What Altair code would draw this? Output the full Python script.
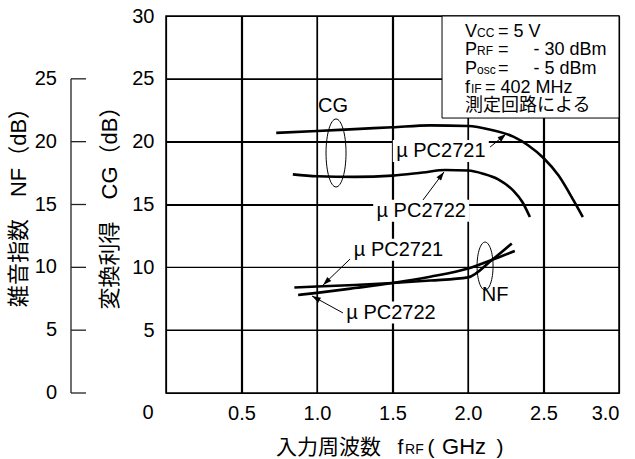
import math
import altair as alt
import pandas as pd

FONT = "'Liberation Sans', Arial, 'Noto Sans CJK JP', sans-serif"

# ---------------- data ----------------
# conversion gain CG (dB) vs input frequency fRF (GHz)
cg_2721_f = [0.73, 1.0, 1.25, 1.5, 1.75, 2.0, 2.15, 2.3, 2.4, 2.5, 2.6, 2.7, 2.76]
cg_2721_db = [20.7, 20.85, 21.0, 21.15, 21.3, 21.25, 20.95, 20.4, 19.7, 18.7, 17.3, 15.3, 14.0]
cg_2722_f = [0.84, 1.0, 1.25, 1.5, 1.7, 1.85, 2.0, 2.1, 2.2, 2.3, 2.36, 2.41]
cg_2722_db = [17.4, 17.25, 17.2, 17.3, 17.55, 17.75, 17.7, 17.45, 17.0, 16.1, 15.2, 14.0]
# noise figure NF (dB)
nf_2721_f = [0.85, 1.0, 1.25, 1.5, 1.75, 2.0, 2.16, 2.29]
nf_2721_db = [8.4, 8.47, 8.6, 8.75, 8.95, 9.2, 10.6, 11.9]
nf_2722_f = [0.875, 1.0, 1.25, 1.5, 1.75, 2.0, 2.16, 2.31]
nf_2722_db = [7.8, 7.97, 8.35, 8.75, 9.25, 9.9, 10.6, 11.3]

x_ticks = [0, 0.5, 1.0, 1.5, 2.0, 2.5, 3.0]
cg_ticks = [0, 5, 10, 15, 20, 25, 30]
nf_ticks = [0, 5, 10, 15, 20, 25]

# annotation texts and their places (in chart units)
part_names = ["µ PC2721", "µ PC2722", "µ PC2721", "µ PC2722"]
part_x = [1.82, 1.69, 1.54, 1.49]
part_y = [19.25, 14.5, 11.4, 6.4]
arrow_from_x = [2.146, 1.702, 1.219, 1.172]
arrow_from_y = [19.57, 15.36, 10.66, 6.37]
arrow_to_x = [2.252, 1.841, 1.04, 0.967]
arrow_to_y = [20.61, 17.59, 8.59, 7.72]

group_names = ["CG", "NF"]
group_x = [1.106, 2.18]
group_y = [22.84, 7.8]

NB = "\u00a0"
cond_text = ["V", "CC", "= 5 V",
             "P", "RF", "=" + NB * 5 + "- 30 dBm",
             "P", "osc", "=" + NB * 5 + "- 5 dBm",
             "f", "IF", "= 402 MHz",
             "測定回路による"]
cond_x = [1.980, 2.060, 2.199,
          1.980, 2.060, 2.199,
          1.980, 2.060, 2.199,
          1.980, 2.020, 2.113,
          1.980]
cond_y = [28.33] * 3 + [26.86] * 3 + [25.38] * 3 + [23.91] * 3 + [22.48]
cond_fs = [18, 12, 18, 18, 12, 18, 18, 12, 18, 18, 12, 18, 18]

xtitle_text = ["入力周波数", "f", "RF", "(", "GHz", ")"]
xtitle_x = [0.728, 1.533, 1.583, 1.732, 1.828, 2.189]
xtitle_fs = [21, 21, 14, 21, 22, 21]

# ---------------- scales and axes ----------------
W, H = 453, 377
XS = alt.Scale(domain=[0, 3], nice=False, zero=False)
YS = alt.Scale(domain=[0, 30], nice=False, zero=False)
PX_PER_X = W / 3.0
PX_PER_Y = H / 30.0
NF_AXIS_X = -95          # pixel offset of the second (NF) axis line from the plot's left edge
GRID_W = 1.2

X_AXIS = alt.Axis(values=x_ticks, labelExpr="datum.value == 0 ? '' : format(datum.value, '.1f')",
                  grid=True, gridColor="black", gridWidth=GRID_W, ticks=False, domain=False,
                  title=None, labelPadding=10, labelFontSize=20)
Y_AXIS = alt.Axis(values=cg_ticks, labelExpr="datum.value == 0 ? '' : datum.label",
                  orient="left", grid=True, gridColor="black", gridWidth=GRID_W, ticks=False,
                  domain=False, labelPadding=12, labelFontSize=20,
                  title="変換利得　CG（dB）", titleX=-57, titleY=186, titleAngle=270,
                  titleAlign="center", titleBaseline="middle", titleFontSize=22)


def X(f):
    return alt.X(f, type="quantitative", scale=XS, axis=X_AXIS)


def Y(f):
    return alt.Y(f, type="quantitative", scale=YS, axis=Y_AXIS)


# ---------------- tables ----------------
cg_df = pd.DataFrame({
    "f": cg_2721_f + cg_2722_f,
    "db": cg_2721_db + cg_2722_db,
    "series": ["µPC2721"] * len(cg_2721_f) + ["µPC2722"] * len(cg_2722_f),
})
nf_df = pd.DataFrame({
    "f": nf_2721_f + nf_2722_f,
    "db": nf_2721_db + nf_2722_db,
    "series": ["µPC2721 NF"] * len(nf_2721_f) + ["µPC2722 NF"] * len(nf_2722_f),
})

inner_x = [v for v in x_ticks if 0 < v < 3]
inner_y = [v for v in cg_ticks if 0 < v < 30]
vgrid_df = pd.DataFrame({"gx": inner_x, "ga": [0] * len(inner_x), "gb": [30] * len(inner_x)})
hgrid_df = pd.DataFrame({"gy": inner_y, "ga": [0] * len(inner_y), "gb": [3] * len(inner_y)})

nf_axis_line = pd.DataFrame({"ya": [min(nf_ticks)], "yb": [max(nf_ticks)]})
nf_tick_df = pd.DataFrame({"t": nf_ticks, "label": [str(v) for v in nf_ticks]})
nf_title_df = pd.DataFrame({"text": ["雑音指数　NF（dB）"]})

half_w = 48 / PX_PER_X
half_h = 11 / PX_PER_Y
parts_df = pd.DataFrame({"text": part_names, "x": part_x, "y": part_y})
parts_df["xa"] = parts_df["x"] - half_w
parts_df["xb"] = parts_df["x"] + half_w
parts_df["ya"] = parts_df["y"] - half_h
parts_df["yb"] = parts_df["y"] + half_h

ang = []
for a, b, c, d in zip(arrow_from_x, arrow_from_y, arrow_to_x, arrow_to_y):
    dx = (c - a) * PX_PER_X
    dys = -(d - b) * PX_PER_Y
    ang.append(math.degrees(math.atan2(dx, -dys)) % 360)
arrows_df = pd.DataFrame({"xa": arrow_from_x, "ya": arrow_from_y,
                          "xb": arrow_to_x, "yb": arrow_to_y, "ang": ang})

groups_df = pd.DataFrame({"text": group_names, "x": group_x, "y": group_y})
cond_df = pd.DataFrame({"text": cond_text, "x": cond_x, "y": cond_y, "fs": cond_fs})
box_df = pd.DataFrame({"xa": [1.828], "xb": [3.0], "ya": [21.88], "yb": [30.0]})
xtitle_df = pd.DataFrame({"text": xtitle_text, "x": xtitle_x,
                          "y": [-4.85] * len(xtitle_text), "fs": xtitle_fs})
origin_df = pd.DataFrame({"text": ["0"], "x": [-0.119], "y": [-2.03]})

ell_cg = pd.DataFrame({"x": [1.126], "y": [19.1]})
ell_nf = pd.DataFrame({"x": [2.113], "y": [10.1]})


def ellipse_path(rx, ry):
    r = rx / ry
    return f"M0,-1 A{r:.3f},1 0 1,1 0,1 A{r:.3f},1 0 1,1 0,-1 Z"


ARROW = "M0,0 L-0.33,1 L0.33,1 Z"

# ---------------- layers ----------------
vgrid = alt.Chart(vgrid_df).mark_rule(color="black", strokeWidth=GRID_W).encode(
    x=X("gx"), y=Y("ga"), y2="gb")
hgrid = alt.Chart(hgrid_df).mark_rule(color="black", strokeWidth=GRID_W).encode(
    x=X("ga"), x2="gb", y=Y("gy"))

cg_lines = alt.Chart(cg_df).mark_line(color="black", strokeWidth=2.6, interpolate="monotone").encode(
    x=X("f"), y=Y("db"), detail="series:N")
nf_lines = alt.Chart(nf_df).mark_line(color="black", strokeWidth=2.6, interpolate="monotone").encode(
    x=X("f"), y=Y("db"), detail="series:N")

# second (NF) axis, drawn from its tick values
nf_line = alt.Chart(nf_axis_line).mark_rule(color="#222", strokeWidth=1.3).encode(
    x=alt.value(NF_AXIS_X), y=Y("ya"), y2="yb")
nf_ticks_l = alt.Chart(nf_tick_df).mark_rule(color="#222", strokeWidth=1.3).encode(
    x=alt.value(NF_AXIS_X), x2=alt.value(NF_AXIS_X + 15), y=Y("t"))
nf_labels = alt.Chart(nf_tick_df).mark_text(align="right", baseline="middle", font=FONT,
                                            fontSize=20, color="black").encode(
    x=alt.value(NF_AXIS_X - 14), y=Y("t"), text="label:N")
nf_title = alt.Chart(nf_title_df).mark_text(angle=270, align="center", baseline="middle",
                                            font=FONT, fontSize=22, color="black").encode(
    x=alt.value(19 - 166), y=alt.value(186), text="text:N")

box = alt.Chart(box_df).mark_rect(fill="white", stroke="black", strokeWidth=1).encode(
    x=X("xa"), x2="xb", y=Y("ya"), y2="yb")

cond_text_layer = alt.Chart(cond_df).mark_text(align="left", baseline="alphabetic", font=FONT,
                                               color="black").encode(
    x=X("x"), y=Y("y"), text="text:N", size=alt.Size("fs:Q", scale=None))

part_boxes = alt.Chart(parts_df).mark_rect(fill="white", strokeWidth=0).encode(
    x=X("xa"), x2="xb", y=Y("ya"), y2="yb")
part_text = alt.Chart(parts_df).mark_text(align="center", baseline="middle", font=FONT,
                                          fontSize=20, color="black").encode(
    x=X("x"), y=Y("y"), text="text:N")

arrow_lines = alt.Chart(arrows_df).mark_rule(color="black", strokeWidth=1).encode(
    x=X("xa"), x2="xb", y=Y("ya"), y2="yb")
arrow_heads = alt.Chart(arrows_df).mark_point(shape=ARROW, filled=True, color="black",
                                              size=300, opacity=1).encode(
    x=X("xb"), y=Y("yb"), angle=alt.Angle("ang:Q", scale=None))

group_text = alt.Chart(groups_df).mark_text(align="center", baseline="middle", font=FONT,
                                            fontSize=20, color="black").encode(
    x=X("x"), y=Y("y"), text="text:N")

e_cg = alt.Chart(ell_cg).mark_point(shape=ellipse_path(10, 34), filled=False, stroke="black",
                                    strokeWidth=1, size=(2 * 34) ** 2, opacity=1).encode(
    x=X("x"), y=Y("y"))
e_nf = alt.Chart(ell_nf).mark_point(shape=ellipse_path(8, 24), filled=False, stroke="black",
                                    strokeWidth=1, size=(2 * 24) ** 2, opacity=1).encode(
    x=X("x"), y=Y("y"))

xtitle = alt.Chart(xtitle_df).mark_text(align="left", baseline="alphabetic", font=FONT,
                                        color="black").encode(
    x=X("x"), y=Y("y"), text="text:N", size=alt.Size("fs:Q", scale=None))
origin = alt.Chart(origin_df).mark_text(align="center", baseline="alphabetic", font=FONT,
                                        fontSize=20, color="black").encode(
    x=X("x"), y=Y("y"), text="text:N")

chart = alt.layer(vgrid, hgrid, cg_lines, nf_lines, box, cond_text_layer, part_boxes, part_text,
                  arrow_lines, arrow_heads, group_text, e_cg, e_nf, xtitle, origin,
                  nf_line, nf_ticks_l, nf_labels, nf_title
                  ).properties(
    width=W, height=H,
    padding={"left": 166, "top": 16, "right": 16, "bottom": 66},
    autosize=alt.AutoSizeParams(type="none"),
    background="white",
).configure_view(stroke="black", strokeWidth=1.5).configure_axis(
    labelFont=FONT, titleFont=FONT, labelColor="black", titleColor="black",
    titleFontWeight="normal",
)

chart.save("out.html", embed_options={"renderer": "svg", "actions": False})
